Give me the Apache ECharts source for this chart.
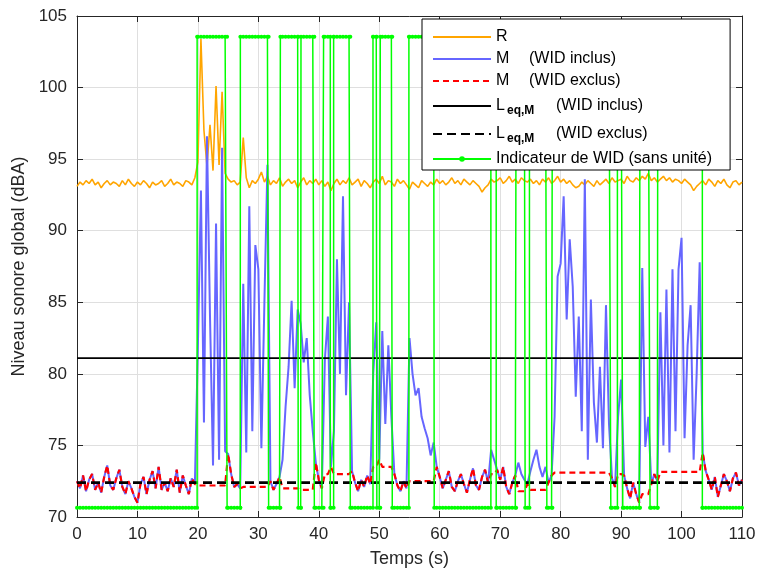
<!DOCTYPE html>
<html><head><meta charset="utf-8">
<script src="https://cdn.jsdelivr.net/npm/echarts@6/dist/echarts.min.js"></script>
<style>html,body{margin:0;padding:0;background:#fff}#c{width:759px;height:573px}</style>
</head><body><div id="c"></div>
<script>
// time base of the sampled series (s)
const T_START = 0, T_STEP = 0.5;

// R (reference level, dBA)
const R = [
93.1,93.4,93.2,93.5,93.3,93.6,93.2,93.4,93.0,93.3,
93.5,93.2,93.4,93.3,93.1,93.5,93.2,93.6,93.3,93.1,
93.4,93.2,93.5,93.3,93.0,93.4,93.2,93.3,93.5,93.1,
93.3,93.6,93.2,93.4,93.3,93.1,93.5,93.4,93.2,93.7,
94.8,103.4,97.0,94.5,97.4,94.2,100.1,94.6,99.7,94.0,
93.6,93.4,93.5,93.2,93.4,96.5,93.7,93.0,93.5,93.3,
93.6,94.1,93.4,93.8,93.2,93.5,93.3,93.7,93.1,93.4,
93.6,93.3,93.5,93.0,93.4,93.7,93.2,93.5,93.3,93.6,
93.2,93.5,93.1,93.4,92.8,93.3,93.6,93.2,93.5,93.3,
93.7,93.2,93.4,93.6,93.1,93.5,93.3,93.0,93.4,93.6,
93.3,93.8,93.2,93.5,93.4,93.1,93.6,93.3,93.5,93.2,
92.9,93.4,93.2,93.0,93.5,93.3,93.1,93.4,93.2,93.6,
93.3,93.5,93.2,93.4,93.7,93.3,93.5,93.2,93.6,93.4,
93.2,93.5,93.3,93.1,92.7,93.0,93.2,93.6,93.4,93.5,
93.7,93.3,93.5,93.8,93.4,93.6,93.3,93.7,93.5,93.4,
93.6,93.3,93.5,93.2,93.6,93.4,93.7,93.3,93.5,93.8,
93.4,93.6,93.3,93.5,93.2,93.0,93.1,93.4,93.2,93.5,
93.3,93.1,93.5,93.2,93.4,93.6,93.3,93.7,93.4,93.5,
93.6,93.3,93.8,93.5,93.4,93.7,93.5,93.8,93.6,94.0,
93.5,93.7,93.4,93.6,93.8,93.5,93.7,93.4,93.6,93.5,
93.3,93.6,93.4,93.2,92.8,93.1,93.3,93.5,93.2,93.6,
93.4,93.1,93.5,93.3,93.6,93.2,93.0,93.4,93.5,93.2,
93.4
];

// M (WID inclus)
const M_INCL = [
72.5,72.0,72.9,71.8,72.6,73.0,71.9,72.4,71.7,72.8,
73.6,72.2,71.9,72.7,73.3,72.1,71.6,72.5,72.0,71.4,
71.0,72.3,72.8,71.6,72.6,73.2,72.0,73.5,71.9,72.4,
71.8,72.7,72.1,73.3,71.7,72.9,72.2,71.6,72.7,72.3,
82.0,92.8,76.6,96.6,84.0,73.6,90.5,74.0,95.8,74.6,
74.4,73.0,72.1,72.3,72.0,86.3,74.5,91.7,76.0,89.0,
87.3,74.8,85.0,94.6,72.5,71.9,72.3,72.8,74.0,77.7,
80.5,85.1,79.0,84.5,83.5,80.8,82.5,78.5,76.0,73.8,
72.6,72.0,81.0,84.0,73.5,76.0,88.0,80.0,92.4,78.5,
85.0,73.2,72.4,71.8,72.6,72.1,72.9,72.3,80.0,83.6,
74.0,83.0,76.5,82.0,77.0,73.0,72.2,71.8,72.5,72.0,
82.5,80.0,78.5,79.0,77.0,76.2,75.5,74.3,75.2,73.5,
72.8,72.0,72.6,73.2,72.1,71.8,72.5,73.0,72.3,71.7,
72.6,73.4,72.2,71.9,72.8,73.3,72.4,74.7,74.0,73.3,
72.6,73.5,72.1,71.6,72.4,72.9,73.8,73.0,72.6,72.3,
73.2,74.0,74.7,73.5,72.8,73.5,72.4,72.9,77.0,86.8,
87.7,92.4,83.8,89.4,86.1,78.4,84.0,76.0,93.6,74.0,
85.2,78.0,75.2,80.5,74.8,84.8,76.5,72.7,72.1,77.0,
79.6,72.9,72.0,71.3,72.4,71.6,71.0,87.4,74.9,77.0,
72.3,73.0,72.5,84.3,75.0,85.9,74.5,87.3,76.0,87.3,
89.5,75.5,82.0,84.8,74.0,80.0,87.8,74.5,73.2,72.6,
71.9,72.8,71.4,72.2,73.0,72.5,71.8,72.7,73.1,72.2,
72.6
];

// M (WID exclus)
const M_EXCL = [
72.5,72.0,72.9,71.8,72.6,73.0,71.9,72.4,71.7,72.8,
73.6,72.2,71.9,72.7,73.3,72.1,71.6,72.5,72.0,71.4,
71.0,72.3,72.8,71.6,72.6,73.2,72.0,73.5,71.9,72.4,
71.8,72.7,72.1,73.3,71.7,72.9,72.2,71.6,72.7,72.3,
72.2,72.2,72.2,72.2,72.2,72.2,72.2,72.2,72.2,72.2,
74.4,73.0,72.1,72.3,72.0,72.1,72.1,72.1,72.1,72.1,
72.1,72.1,72.1,72.1,72.5,71.9,72.3,72.8,72.0,72.0,
72.0,72.0,72.0,72.0,71.9,71.9,71.9,71.9,71.9,73.8,
72.6,72.0,73.0,73.0,73.5,73.0,73.0,73.0,73.0,73.0,
73.0,73.2,72.4,71.8,72.6,72.1,72.9,72.3,73.5,73.5,
74.0,73.5,73.5,73.5,73.5,73.0,72.2,71.8,72.5,72.0,
72.5,72.5,72.5,72.5,72.5,72.5,72.5,72.5,72.5,73.5,
72.8,72.0,72.6,73.2,72.1,71.8,72.5,73.0,72.3,71.7,
72.6,73.4,72.2,71.9,72.8,73.3,72.4,73.0,73.0,73.3,
72.6,73.5,72.1,71.6,72.4,72.9,71.8,71.8,71.8,72.3,
71.9,71.9,71.9,71.9,71.9,71.9,72.4,72.9,73.1,73.1,
73.1,73.1,73.1,73.1,73.1,73.1,73.1,73.1,73.1,73.1,
73.1,73.1,73.1,73.1,73.1,73.1,73.1,72.7,72.1,73.0,
73.0,72.9,72.0,71.3,72.4,71.6,71.0,71.6,71.6,71.6,
72.3,73.0,72.5,73.15,73.15,73.15,73.15,73.15,73.15,73.15,
73.15,73.15,73.15,73.15,73.15,73.15,73.15,74.5,73.2,72.6,
71.9,72.8,71.4,72.2,73.0,72.5,71.8,72.7,73.1,72.2,
72.6
];

// Leq,M levels
const LEQ_INCL = 81.1;
const LEQ_EXCL = 72.4;

// WID indicator: levels and intervals where it is on (s)
const WID_LOW = 70.65, WID_HIGH = 103.55;
const WID_ON = [
[19.87,24.83],[27.02,31.70],[33.64,36.60],[37.05,39.26],[40.79,41.90],[42.45,45.21],
[48.96,49.60],[50.17,52.15],[54.90,59.09],[68.46,69.34],[72.64,74.13],[74.84,77.72],
[78.64,88.30],[89.39,90.28],[93.14,94.79],[96.07,103.44]
];

const X_MIN = 0, X_MAX = 110, X_INT = 10;
const Y_MIN = 70, Y_MAX = 105, Y_INT = 5;

const NAMES = ['R','M (WID inclus)','M (WID exclus)','Leq,M (WID inclus)','Leq,M (WID exclus)','Indicateur de WID (sans unité)'];
const LABELS = {
  'R': '{t|R}',
  'M (WID inclus)': '{m|M}{t|(WID inclus)}',
  'M (WID exclus)': '{m|M}{t|(WID exclus)}',
  'Leq,M (WID inclus)': '{l|L}{s|eq,M}{t|(WID inclus)}',
  'Leq,M (WID exclus)': '{l|L}{s|eq,M}{t|(WID exclus)}',
  'Indicateur de WID (sans unité)': '{t|Indicateur de WID (sans unité)}'
};

const toPairs = arr => arr.map((v,i)=>[T_START + i*T_STEP, v]);
const isOn = t => WID_ON.some(([a,b]) => t >= a && t <= b);
const widPts = [];
for (let i = 0; i < R.length; i++) {
  const t = T_START + i*T_STEP;
  widPts.push({t, k:0, v: isOn(t) ? WID_HIGH : WID_LOW});
}
WID_ON.forEach(([a,b]) => {
  widPts.push({t:a,k:0,v:WID_LOW},{t:a,k:1,v:WID_HIGH},{t:b,k:0,v:WID_HIGH},{t:b,k:1,v:WID_LOW});
});
widPts.sort((p,q)=> p.t - q.t || p.k - q.k);

const FONT = 'Liberation Sans, Arial, Helvetica, sans-serif';
const AX = '#262626';
const NO_DOT = {color: 'rgba(0,0,0,0)', borderWidth: 0, opacity: 0};

const chart = echarts.init(document.getElementById('c'), null, {renderer:'canvas'});
chart.setOption({
  animation: false,
  backgroundColor: '#fff',
  textStyle: {fontFamily: FONT},
  grid: {left: 77, right: 17, top: 16, bottom: 56, containLabel: false},
  legend: {
    data: NAMES.map((n,i) => i < 5 ? {name: n, itemStyle: NO_DOT} : {name: n}),
    orient: 'vertical',
    left: 422, top: 19,
    padding: [10, 18, 3, 10],
    itemGap: 6,
    itemWidth: 58, itemHeight: 7,
    backgroundColor: '#fff',
    borderColor: '#000', borderWidth: 1,
    selectedMode: false,
    formatter: n => LABELS[n],
    textStyle: {
      fontFamily: FONT, fontSize: 16, color: '#000',
      rich: {
        t: {fontFamily: FONT, fontSize: 16, color:'#000', lineHeight: 18},
        m: {fontFamily: FONT, fontSize: 16, color:'#000', lineHeight: 18, width: 33},
        l: {fontFamily: FONT, fontSize: 16, color:'#000', lineHeight: 18, width: 11},
        s: {fontFamily: FONT, fontSize: 12, fontWeight: 'bold', color:'#000', lineHeight: 12, width: 49, padding: [10,0,0,0]}
      }
    }
  },
  xAxis: [{
    type: 'value', min: X_MIN, max: X_MAX, interval: X_INT, position: 'bottom',
    name: 'Temps (s)', nameLocation: 'middle', nameGap: 33,
    nameTextStyle: {fontFamily: FONT, fontSize: 18, color: AX},
    axisLine: {show: true, onZero: false, lineStyle: {color: AX, width: 1}},
    axisTick: {show: true, inside: true, length: 6, lineStyle: {color: AX}},
    axisLabel: {fontFamily: FONT, fontSize: 17, color: AX, margin: 9},
    splitLine: {show: true, lineStyle: {color: '#dfdfdf', width: 1}}
  },{
    type: 'value', min: X_MIN, max: X_MAX, interval: X_INT, position: 'top',
    axisLine: {show: true, onZero: false, lineStyle: {color: AX, width: 1}},
    axisTick: {show: true, inside: true, length: 6, lineStyle: {color: AX}},
    axisLabel: {show: false}, splitLine: {show: false}
  }],
  yAxis: [{
    type: 'value', min: Y_MIN, max: Y_MAX, interval: Y_INT, position: 'left',
    name: 'Niveau sonore global (dBA)', nameLocation: 'middle', nameGap: 46, nameRotate: 90,
    nameTextStyle: {fontFamily: FONT, fontSize: 18, color: AX},
    axisLine: {show: true, onZero: false, lineStyle: {color: AX, width: 1}},
    axisTick: {show: true, inside: true, length: 6, lineStyle: {color: AX}},
    axisLabel: {fontFamily: FONT, fontSize: 17, color: AX, margin: 10},
    splitLine: {show: true, lineStyle: {color: '#dfdfdf', width: 1}}
  },{
    type: 'value', min: Y_MIN, max: Y_MAX, interval: Y_INT, position: 'right',
    axisLine: {show: true, onZero: false, lineStyle: {color: AX, width: 1}},
    axisTick: {show: true, inside: true, length: 6, lineStyle: {color: AX}},
    axisLabel: {show: false}, splitLine: {show: false}
  }],
  series: [
    {name: NAMES[0], type: 'line', data: toPairs(R), symbol: 'none',
     lineStyle: {color: '#ffa500', width: 1.6}, itemStyle: {color: '#ffa500'}},
    {name: NAMES[1], type: 'line', data: toPairs(M_INCL), symbol: 'none',
     lineStyle: {color: '#6666ff', width: 2}, itemStyle: {color: '#6666ff'}},
    {name: NAMES[2], type: 'line', data: toPairs(M_EXCL), symbol: 'none',
     lineStyle: {color: '#ff0000', width: 2.2, type: [6,4]}, itemStyle: {color: '#ff0000'}},
    {name: NAMES[3], type: 'line', data: [[X_MIN, LEQ_INCL],[X_MAX, LEQ_INCL]], symbol: 'none',
     lineStyle: {color: '#000', width: 1.6}, itemStyle: {color: '#000'}},
    {name: NAMES[4], type: 'line', data: [[X_MIN, LEQ_EXCL],[X_MAX, LEQ_EXCL]], symbol: 'none',
     lineStyle: {color: '#000', width: 2.6, type: [9,5]}, itemStyle: {color: '#000'}},
    {name: NAMES[5], type: 'line', data: widPts.map(p=>[p.t,p.v]), symbol: 'circle', symbolSize: 4,
     showSymbol: true, lineStyle: {color: '#00ff00', width: 1.5}, itemStyle: {color: '#00ff00', borderWidth: 0}}
  ]
});
</script>
</body></html>
